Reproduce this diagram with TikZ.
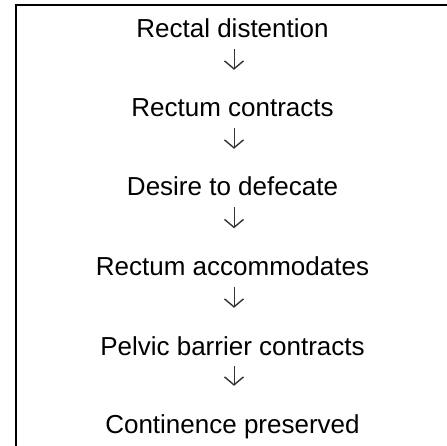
\documentclass[tikz,border=0pt]{standalone}
\usepackage{fontspec}
\setmainfont{Liberation Sans}
\usetikzlibrary{arrows.meta}
\begin{document}
\begin{tikzpicture}[x=1pt,y=1pt,
  lbl/.style={anchor=base,inner sep=0pt,text height=19pt,text depth=5pt,font=\fontsize{26}{31}\selectfont},
  arr/.style={draw=black!80,line width=1pt,-{Straight Barb[length=8pt,width=19pt,line width=1.4pt]},shorten <=6pt,shorten >=28pt}]
\useasboundingbox (0,0) rectangle (447,-446);
\draw[line width=2pt] (16,-447) -- (16,-5) -- (448,-5);
\node[lbl] (n1) at (232.5,-38) {Rectal distention};
\node[lbl] (n2) at (232.5,-117) {Rectum contracts};
\node[lbl] (n3) at (232.5,-196) {Desire to defecate};
\node[lbl] (n4) at (232.5,-275.5) {Rectum accommodates};
\node[lbl] (n5) at (232.5,-355) {Pelvic barrier contracts};
\node[lbl] (n6) at (232.5,-433) {Continence preserved};
\foreach \a/\b in {n1/n2,n2/n3,n3/n4,n4/n5,n5/n6}
  \draw[arr] ([xshift=1.5pt]\a.south) -- ([xshift=1.5pt]\b.north);
\end{tikzpicture}
\end{document}
